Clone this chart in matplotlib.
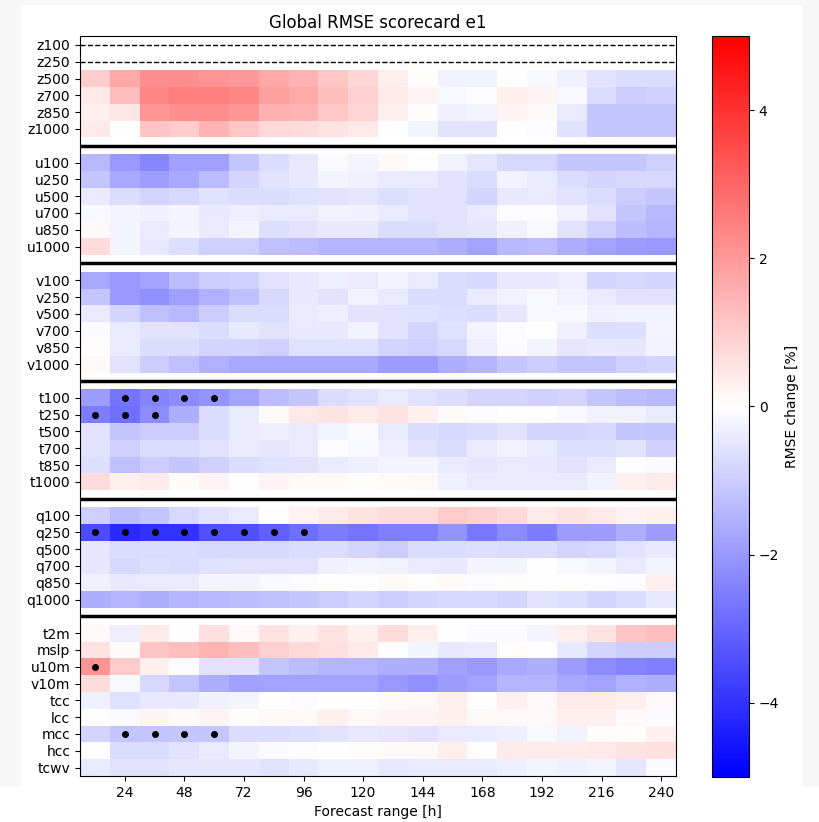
import numpy as np
import matplotlib
matplotlib.use("Agg")
import matplotlib.pyplot as plt
from matplotlib.patches import Rectangle

# forecast steps (h)
steps = np.arange(12, 241, 12)

# RMSE change [%] per variable and lead time
z_levels = ["z100", "z250", "z500", "z700", "z850", "z1000"]
z_vals = [
    [np.nan] * 20,
    [np.nan] * 20,
    [1.0, 1.7, 2.2, 2.2, 2.1, 2.0, 1.7, 1.45, 1.1, 0.8, 0.35, 0.05, -0.25, -0.25, 0.0, -0.15, -0.3, -0.55, -0.7, -0.7],
    [0.45, 1.3, 2.35, 2.5, 2.5, 2.35, 1.85, 1.7, 1.25, 0.9, 0.45, 0.2, -0.15, -0.05, 0.3, 0.2, -0.15, -0.7, -1.0, -0.9],
    [0.3, 0.5, 2.1, 2.2, 2.25, 2.1, 1.55, 1.45, 1.1, 0.85, 0.3, 0.05, -0.3, -0.2, 0.2, 0.1, -0.4, -1.1, -1.15, -1.15],
    [0.45, 0.0, 1.15, 1.0, 1.45, 1.1, 0.75, 0.7, 0.55, 0.45, 0.0, -0.2, -0.55, -0.55, 0.0, -0.05, -0.6, -1.1, -1.15, -1.15],
]
u_levels = ["u100", "u250", "u500", "u700", "u850", "u1000"]
u_vals = [
    [-1.4, -2.0, -2.35, -1.85, -1.85, -1.15, -0.7, -0.45, -0.1, -0.2, 0.15, 0.0, -0.25, -0.5, -0.75, -0.75, -1.1, -1.1, -1.1, -0.9],
    [-1.15, -1.7, -1.9, -1.7, -1.3, -0.85, -0.55, -0.45, -0.2, -0.3, -0.4, -0.4, -0.55, -0.7, -0.25, -0.4, -0.7, -0.85, -0.75, -0.75],
    [-0.4, -0.7, -0.85, -0.75, -0.6, -0.7, -0.7, -0.6, -0.55, -0.5, -0.65, -0.55, -0.55, -0.85, -0.45, -0.4, -0.55, -0.7, -1.0, -1.1],
    [-0.15, -0.2, -0.3, -0.2, -0.45, -0.35, -0.4, -0.4, -0.25, -0.3, -0.4, -0.55, -0.55, -0.4, -0.05, -0.05, -0.25, -0.55, -1.1, -1.4],
    [0.15, -0.2, -0.4, -0.2, -0.4, -0.2, -0.65, -0.55, -0.45, -0.45, -0.7, -0.7, -0.55, -0.5, -0.3, -0.15, -0.55, -0.9, -1.3, -1.45],
    [0.7, -0.2, -0.45, -0.65, -0.9, -0.9, -1.25, -1.3, -1.45, -1.45, -1.45, -1.45, -1.6, -1.8, -1.4, -1.3, -1.6, -1.8, -1.95, -2.0],
]
v_levels = ["v100", "v250", "v500", "v700", "v850", "v1000"]
v_vals = [
    [-1.7, -2.0, -1.8, -1.3, -1.0, -0.9, -0.55, -0.45, -0.35, -0.4, -0.25, -0.4, -0.7, -0.75, -0.45, -0.45, -0.35, -0.85, -0.75, -0.85],
    [-1.15, -2.0, -2.15, -1.85, -1.55, -1.25, -0.75, -0.45, -0.55, -0.25, -0.4, -0.7, -0.7, -0.4, -0.25, -0.15, -0.25, -0.4, -0.55, -0.55],
    [-0.4, -0.85, -1.25, -1.4, -1.0, -0.7, -0.7, -0.4, -0.35, -0.55, -0.55, -0.6, -0.65, -0.7, -0.5, -0.15, -0.15, -0.3, -0.25, -0.25],
    [-0.1, -0.4, -0.55, -0.55, -0.7, -0.45, -0.55, -0.45, -0.45, -0.25, -0.55, -0.85, -0.6, -0.2, -0.05, 0.0, -0.3, -0.65, -0.65, -0.2],
    [0.05, -0.4, -0.7, -0.7, -0.85, -0.85, -0.9, -0.6, -0.6, -0.6, -0.85, -0.9, -0.75, -0.35, -0.1, -0.2, -0.5, -0.45, -0.5, -0.25],
    [0.15, -0.55, -1.0, -1.25, -1.55, -1.7, -1.7, -1.7, -1.7, -1.7, -1.95, -1.95, -1.6, -1.45, -1.1, -1.0, -1.15, -1.15, -0.9, -0.85],
]
t_levels = ["t100", "t250", "t500", "t700", "t850", "t1000"]
t_vals = [
    [-1.95, -2.7, -2.4, -2.25, -2.1, -1.8, -1.3, -1.1, -0.7, -0.55, -0.4, -0.55, -0.7, -0.85, -0.85, -0.9, -0.85, -1.1, -1.3, -1.4],
    [-2.55, -2.8, -2.25, -1.6, -0.7, -0.4, 0.1, 0.45, 0.55, 0.4, 0.55, 0.3, 0.1, -0.05, 0.0, 0.0, -0.15, -0.25, -0.25, -0.4],
    [-0.55, -1.1, -1.0, -1.0, -0.7, -0.4, -0.35, -0.4, -0.2, -0.1, -0.4, -0.7, -0.75, -0.7, -0.55, -0.85, -0.85, -0.75, -1.1, -1.15],
    [-0.55, -0.9, -0.7, -0.7, -0.55, -0.4, -0.5, -0.4, -0.05, -0.15, -0.35, -0.55, -0.7, -0.4, -0.25, -0.4, -0.65, -0.65, -0.55, -0.9],
    [-0.65, -1.25, -1.0, -1.1, -0.9, -0.7, -0.6, -0.55, -0.4, -0.35, -0.2, -0.2, -0.4, -0.5, -0.4, -0.45, -0.55, -0.4, 0.0, -0.1],
    [0.7, 0.3, 0.4, 0.1, 0.25, 0.0, 0.2, 0.1, 0.1, 0.05, 0.1, 0.15, -0.3, -0.4, -0.4, -0.4, -0.4, -0.25, 0.3, 0.4],
]
q_levels = ["q100", "q250", "q500", "q700", "q850", "q1000"]
q_vals = [
    [-0.9, -1.3, -1.15, -0.75, -0.55, -0.4, 0.0, 0.25, 0.4, 0.55, 0.7, 0.7, 1.05, 0.9, 0.75, 0.4, 0.55, 0.45, 0.25, 0.3],
    [-3.5, -4.2, -4.0, -4.0, -3.4, -3.4, -3.1, -2.85, -2.55, -2.7, -2.5, -2.5, -2.1, -2.65, -2.25, -2.55, -1.95, -1.95, -1.6, -1.95],
    [-0.5, -0.7, -0.7, -0.7, -0.75, -0.75, -0.75, -0.7, -0.7, -0.85, -1.0, -0.7, -0.7, -0.65, -0.7, -0.7, -0.85, -0.75, -0.55, -0.45],
    [-0.5, -0.75, -0.65, -0.7, -0.6, -0.55, -0.55, -0.55, -0.3, -0.2, -0.25, -0.4, -0.45, -0.2, -0.2, 0.0, -0.15, -0.2, -0.4, -0.2],
    [-0.3, -0.45, -0.4, -0.4, -0.2, -0.2, -0.15, -0.05, 0.0, 0.0, 0.1, 0.0, 0.1, -0.05, 0.05, 0.0, 0.0, 0.0, -0.05, 0.35],
    [-1.6, -1.45, -1.6, -1.45, -1.4, -1.3, -1.25, -1.1, -1.0, -0.85, -1.0, -0.85, -0.75, -0.75, -0.85, -0.55, -0.65, -0.85, -0.7, -0.45],
]
sfc_names = ["t2m", "mslp", "u10m", "v10m", "tcc", "lcc", "mcc", "hcc", "tcwv"]
sfc_vals = [
    [0.15, -0.35, 0.4, 0.0, 0.6, 0.15, 0.55, 0.3, 0.55, 0.3, 0.7, 0.35, 0.0, -0.1, -0.1, -0.2, 0.35, 0.55, 1.15, 1.25],
    [0.55, 0.1, 1.15, 1.25, 1.45, 1.25, 0.9, 0.75, 0.6, 0.45, 0.0, -0.2, -0.45, -0.4, 0.05, 0.0, -0.45, -0.85, -1.0, -1.0],
    [2.1, 1.05, 0.3, -0.05, -0.55, -0.55, -1.15, -1.3, -1.45, -1.45, -1.6, -1.6, -1.85, -2.0, -1.7, -1.6, -1.95, -2.25, -2.4, -2.5],
    [0.7, -0.15, -0.75, -1.15, -1.6, -1.85, -1.8, -1.8, -1.8, -1.8, -2.0, -2.15, -1.95, -1.8, -1.45, -1.45, -1.7, -1.8, -1.55, -1.6],
    [-0.3, -0.6, -0.45, -0.45, -0.3, -0.2, 0.0, -0.05, 0.0, 0.0, 0.1, 0.15, 0.35, 0.0, 0.3, 0.15, 0.4, 0.4, 0.35, 0.15],
    [0.0, -0.1, 0.2, 0.1, 0.2, 0.05, 0.15, 0.15, 0.3, 0.15, 0.2, 0.2, 0.3, 0.15, 0.15, 0.15, 0.3, 0.3, 0.1, -0.1],
    [-0.85, -1.15, -1.15, -1.1, -1.1, -0.7, -0.7, -0.65, -0.55, -0.45, -0.5, -0.55, -0.4, -0.4, -0.35, -0.15, -0.25, 0.05, 0.05, 0.3],
    [0.0, -0.7, -0.7, -0.55, -0.4, -0.2, -0.1, -0.05, 0.0, 0.05, 0.1, 0.1, 0.35, 0.0, 0.4, 0.4, 0.4, 0.45, 0.55, 0.6],
    [-0.4, -0.55, -0.55, -0.5, -0.5, -0.5, -0.55, -0.45, -0.3, -0.3, -0.45, -0.4, -0.4, -0.4, -0.35, -0.2, -0.3, -0.2, -0.5, -0.1],
]

# statistically significant cells: variable -> lead times (h)
significant = {
    "t100": [24, 36, 48, 60],
    "t250": [12, 24, 36],
    "q250": [12, 24, 36, 48, 60, 72, 84, 96],
    "u10m": [12],
    "mcc": [24, 36, 48, 60],
}

groups = [
    (z_levels, z_vals),
    (u_levels, u_vals),
    (v_levels, v_vals),
    (t_levels, t_vals),
    (q_levels, q_vals),
    (sfc_names, sfc_vals),
]

# stack groups with an empty row between them
rows = []
labels = []
label_pos = []
sep_pos = []
for i, (names, vals) in enumerate(groups):
    if i > 0:
        sep_pos.append(len(rows))
        rows.append([np.nan] * len(steps))
    for name, v in zip(names, vals):
        label_pos.append(len(rows))
        labels.append(name)
        rows.append(v)
data = np.array(rows, dtype=float)
nrows = data.shape[0]

fig = plt.figure(figsize=(8.19, 8.22), dpi=100)

# light grey page around the upper part of the figure
W, H = 819, 822
page = "#f7f7f7"
for x0, y0, w, h in [(0, 35, 21, 787), (802, 35, 17, 787), (0, 817, 819, 5)]:
    fig.add_artist(Rectangle((x0 / W, y0 / H), w / W, h / H,
                             transform=fig.transFigure, color=page, lw=0, zorder=-1))

ax = fig.add_axes([80 / W, 1 - 776 / H, 596 / W, 739.5 / H])

x_edges = np.append(steps - 6, steps[-1] + 6)
y_edges = np.arange(nrows + 1) - 0.5
mesh = ax.pcolormesh(x_edges, y_edges, data, cmap="bwr", vmin=-5, vmax=5)
ax.set_ylim(nrows - 0.5, -0.5)
ax.set_xlim(x_edges[0], x_edges[-1])

# missing variables
for name, pos in zip(labels, label_pos):
    if np.all(np.isnan(data[pos])):
        ax.axhline(pos, color="k", ls="--", lw=1)

for pos in sep_pos:
    ax.axhline(pos, color="k", lw=2.5)

for name, hours in significant.items():
    y = label_pos[labels.index(name)]
    ax.plot(hours, [y] * len(hours), "o", color="k", ms=4, ls="none")

ax.set_yticks(label_pos)
ax.set_yticklabels(labels)
ax.set_xticks(np.arange(24, 241, 24))
ax.set_xlabel("Forecast range [h]")
ax.set_title("Global RMSE scorecard e1")

cax = fig.add_axes([712 / W, 1 - 776.5 / H, 37 / W, 740 / H])
cb = fig.colorbar(mesh, cax=cax)
cb.set_ticks([-4, -2, 0, 2, 4])
cb.set_label("RMSE change [%]")

fig.savefig("out.png", dpi=100)
